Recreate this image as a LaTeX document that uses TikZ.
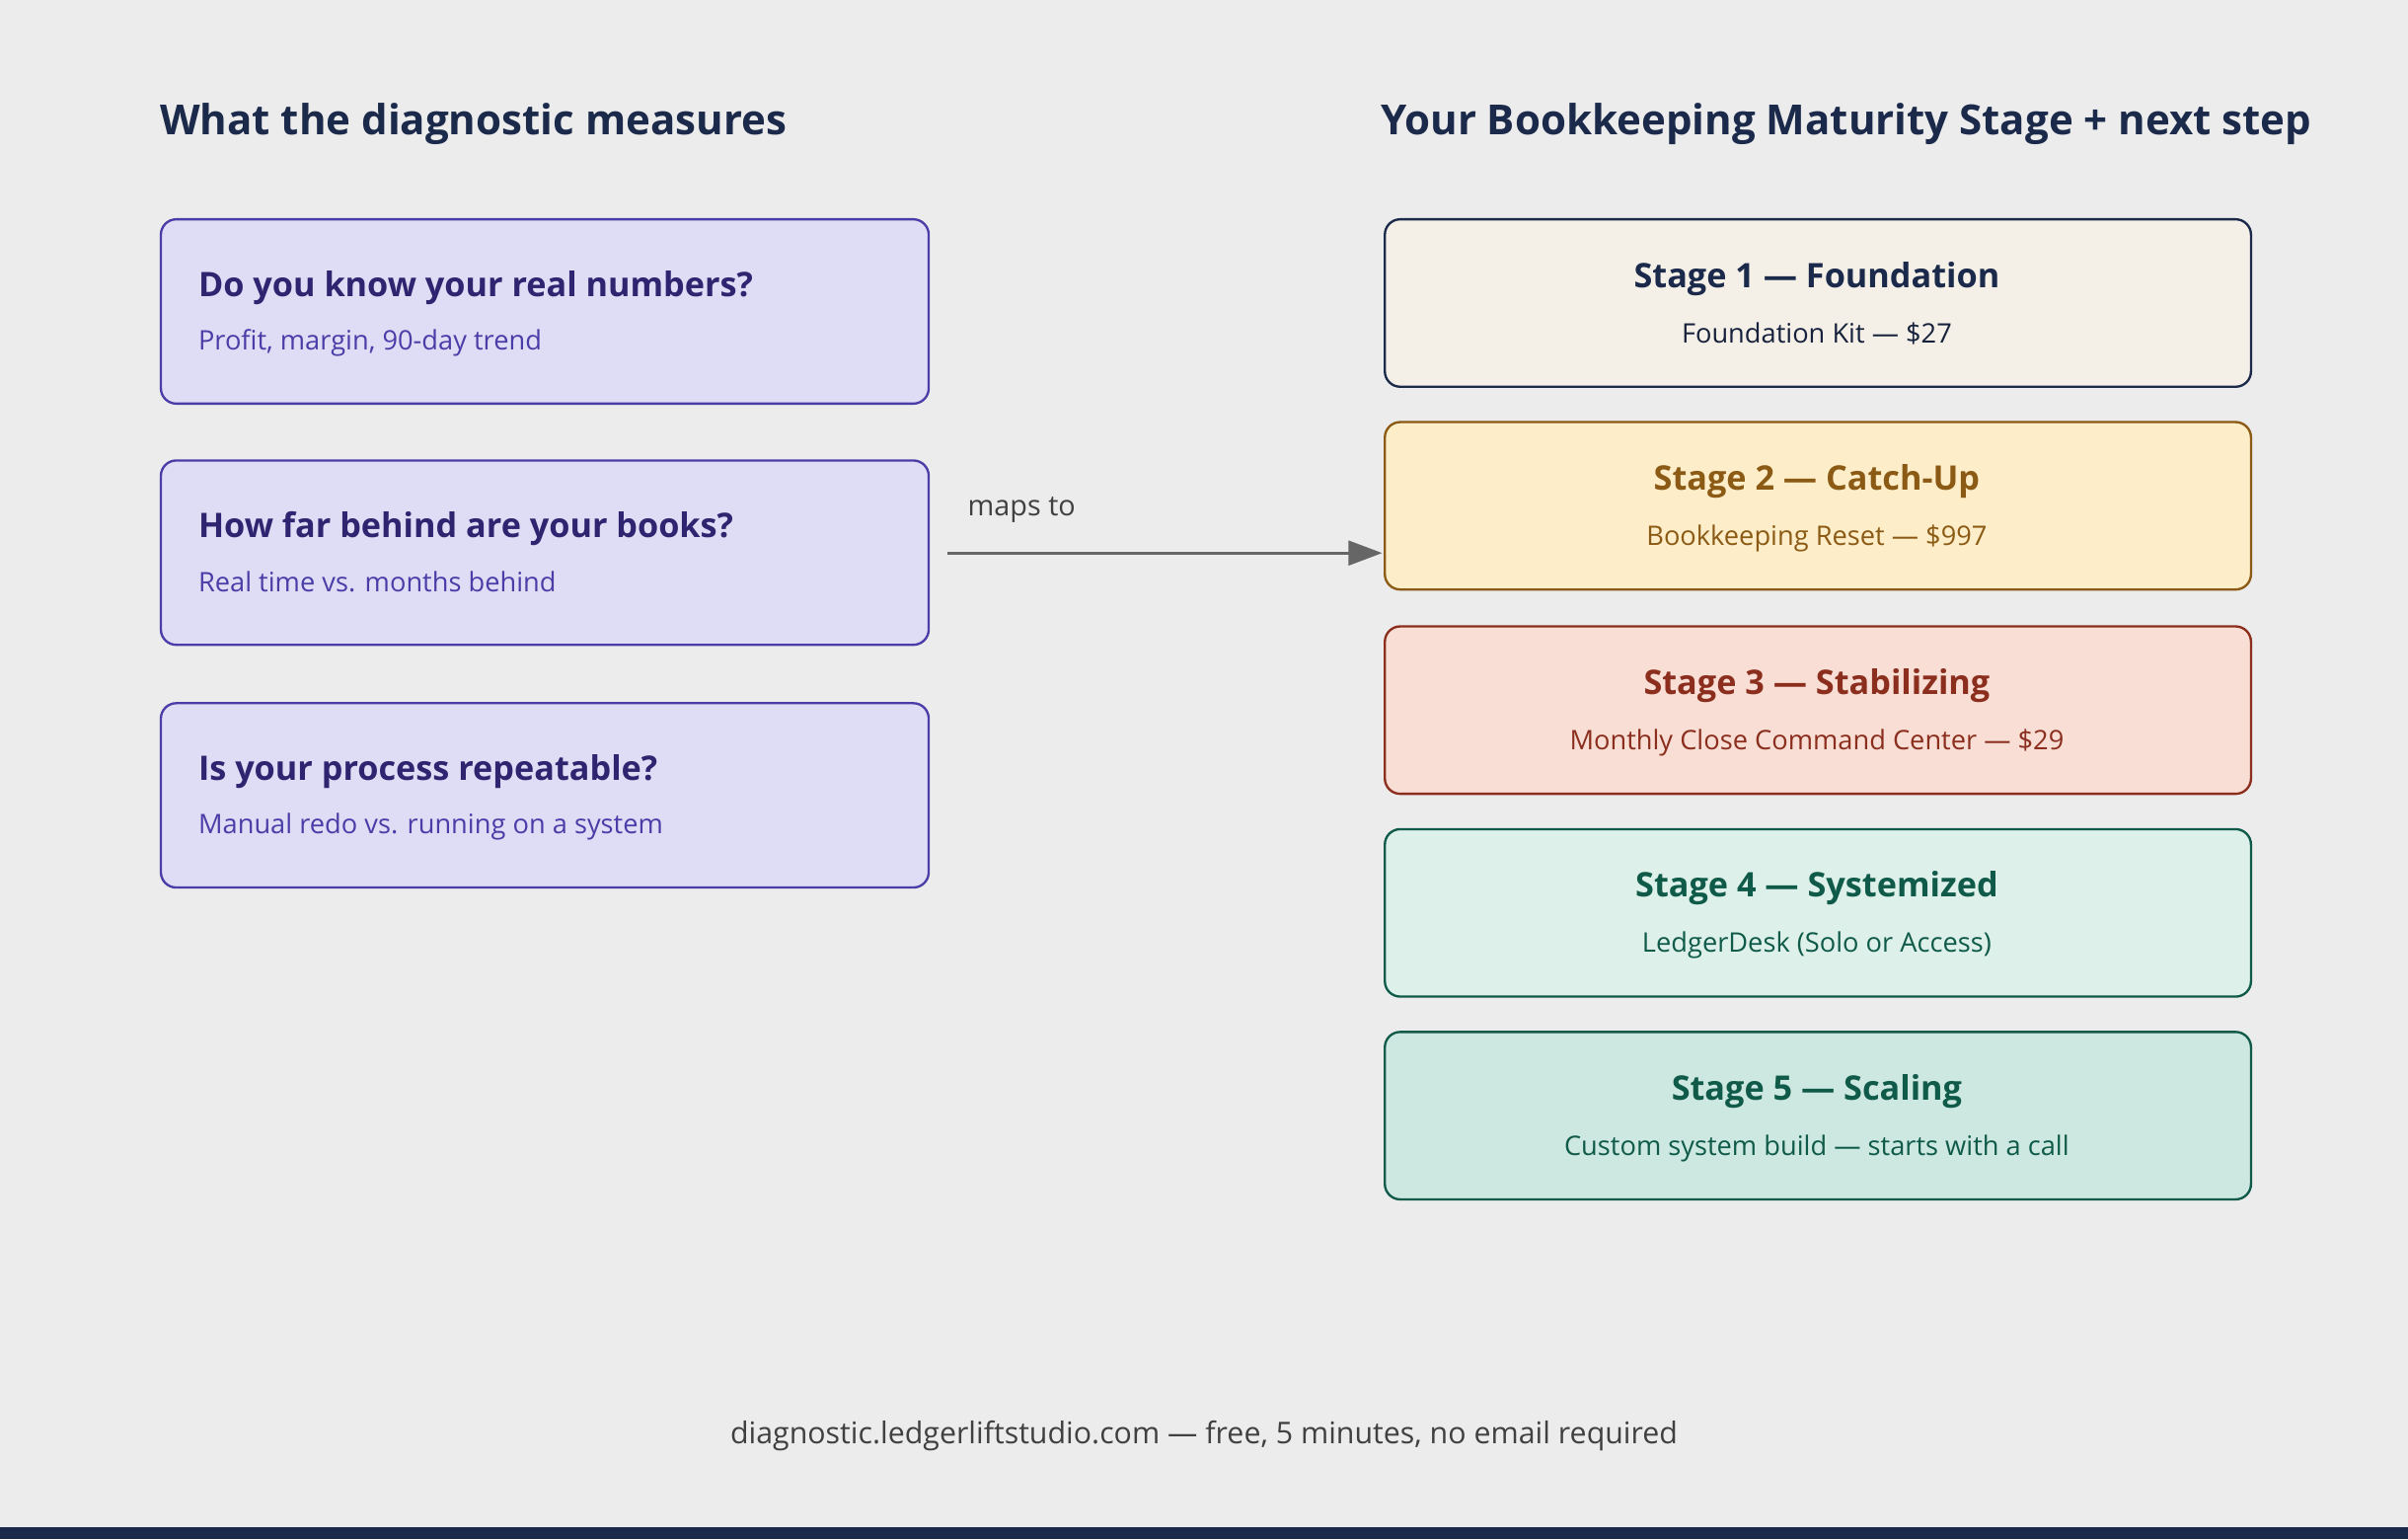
\documentclass[tikz,border=0pt]{standalone}
\usepackage{fontspec}
\setmainfont{Open Sans}
\usetikzlibrary{arrows.meta}
\definecolor{bg}{HTML}{ECECEC}
\definecolor{navy}{HTML}{1B2A4A}
\definecolor{lfill}{HTML}{DFDCF5}
\definecolor{lbord}{HTML}{4B3DA8}
\definecolor{ltitle}{HTML}{2E2470}
\definecolor{sAf}{HTML}{F4F0E8}
\definecolor{sBf}{HTML}{FDEDC8}\definecolor{sBc}{HTML}{8B5A14}
\definecolor{sCf}{HTML}{F8DED4}\definecolor{sCc}{HTML}{8B2E1E}
\definecolor{sDf}{HTML}{DDF0EA}\definecolor{sDc}{HTML}{0F5A48}
\definecolor{sEf}{HTML}{CDE7E1}
\begin{document}
\begin{tikzpicture}[x=1pt,y=-1pt,
 box/.style={draw,rounded corners=10pt,line width=1.5pt,minimum height=120pt,minimum width=500pt,anchor=north west},
 sbox/.style={draw,rounded corners=10pt,line width=1.5pt,minimum height=109pt,minimum width=564pt,anchor=north west},
 head/.style={font=\fontsize{27}{32}\selectfont\bfseries,text=navy,anchor=base west,inner sep=0pt},
 lt/.style={font=\fontsize{22}{27}\selectfont\bfseries,text=ltitle,anchor=base west,inner sep=0pt},
 ls/.style={font=\fontsize{17.5}{21}\selectfont,text=lbord,anchor=base west,inner sep=0pt},
 st/.style={font=\fontsize{22}{27}\selectfont\bfseries,anchor=base},
 ss/.style={font=\fontsize{17.5}{21}\selectfont,anchor=base}]
\fill[bg] (0,0) rectangle (1568,1002);
\fill[navy] (0,994) rectangle (1568,1002);
\node[head] (h1) at (104,88) {What the diagnostic measures};
\node[head] (h2) at (899,88) {Your Bookkeeping Maturity Stage + next step};
\node[box,draw=lbord,fill=lfill] (q1) at (104,142) {};
\node[box,draw=lbord,fill=lfill] (q2) at (104,299) {};
\node[box,draw=lbord,fill=lfill] (q3) at (104,457) {};
\node[lt] (q1t) at (129,193) {Do you know your real numbers?};
\node[ls] (q1s) at (129,228) {Profit, margin, 90-day trend};
\node[lt] (q2t) at (129,350) {How far behind are your books?};
\node[ls] (q2s) at (129,385) {Real time vs. months behind};
\node[lt] (q3t) at (129,508) {Is your process repeatable?};
\node[ls] (q3s) at (129,543) {Manual redo vs. running on a system};
\node[sbox,draw=navy,fill=sAf] (s1) at (901,142) {};
\node[sbox,draw=sBc,fill=sBf] (s2) at (901,274) {};
\node[sbox,draw=sCc,fill=sCf] (s3) at (901,407) {};
\node[sbox,draw=sDc,fill=sDf] (s4) at (901,539) {};
\node[sbox,draw=sDc,fill=sEf] (s5) at (901,671) {};
\node[st,text=navy] (s1t) at (1183,187) {Stage 1 — Foundation};
\node[ss,text=navy!80!black] (s1s) at (1183,223) {Foundation Kit — \$27};
\node[st,text=sBc] (s2t) at (1183,319) {Stage 2 — Catch-Up};
\node[ss,text=sBc] (s2s) at (1183,355) {Bookkeeping Reset — \$997};
\node[st,text=sCc] (s3t) at (1183,452) {Stage 3 — Stabilizing};
\node[ss,text=sCc] (s3s) at (1183,488) {Monthly Close Command Center — \$29};
\node[st,text=sDc] (s4t) at (1183,584) {Stage 4 — Systemized};
\node[ss,text=sDc] (s4s) at (1183,620) {LedgerDesk (Solo or Access)};
\node[st,text=sDc] (s5t) at (1183,716) {Stage 5 — Scaling};
\node[ss,text=sDc] (s5s) at (1183,752) {Custom system build — starts with a call};
\coordinate (a0) at (617,360);
\coordinate (a1) at (900,360);
\draw[line width=2pt,draw=black!60,-{Triangle[length=22pt,width=16pt]}] (a0) -- (a1);
\node[font=\fontsize{18.5}{22}\selectfont,text=black!75,anchor=base west,inner sep=0pt] (ml) at (630,336) {maps to};
\node[font=\fontsize{19.5}{23}\selectfont,text=black!75,anchor=base] (ft) at (784,940) {diagnostic.ledgerliftstudio.com — free, 5 minutes, no email required};
\end{tikzpicture}
\end{document}
